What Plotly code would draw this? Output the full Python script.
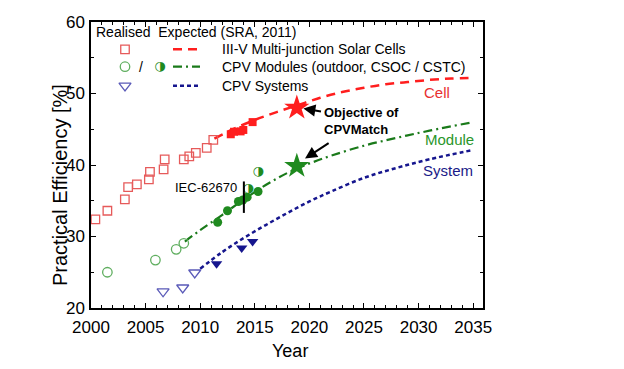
import plotly.graph_objects as go

# ---------------- data ----------------
cell_real_x = [2000.4, 2001.5, 2003.1, 2003.4, 2004.2, 2005.3, 2005.4, 2006.65, 2006.75, 2008.5, 2009.0, 2009.6, 2010.6, 2011.2]
cell_real_y = [32.4, 33.6, 35.2, 36.9, 37.3, 38.0, 39.05, 39.4, 40.8, 40.8, 41.2, 41.7, 42.4, 43.5]
cell_new_x = [2012.8, 2013.1, 2013.7, 2013.95, 2014.8]
cell_new_y = [44.3, 44.65, 44.7, 44.9, 46.0]

module_open_x = [2001.5, 2005.9, 2007.8, 2008.5]
module_open_y = [25.0, 26.7, 28.2, 29.05]
module_new_x = [2011.6, 2012.5, 2013.5, 2013.9, 2014.3, 2015.3]
module_new_y = [32.0, 33.6, 34.9, 35.1, 35.5, 36.3]
module_half_x = [2014.4, 2015.3]
module_half_y = [36.7, 39.0]

system_open_x = [2006.6, 2008.4, 2009.5]
system_open_y = [22.3, 22.85, 24.95]
system_new_x = [2011.5, 2013.8, 2014.8]
system_new_y = [26.2, 28.4, 29.3]

target_year = [2018.85]
cell_target = [48.0]
module_target = [39.85]

cell_exp_x = [2011.3, 2013, 2015, 2017, 2019, 2021, 2023, 2025, 2027, 2029, 2031, 2033, 2035]
cell_exp_y = [43.7, 45.0, 46.3, 47.4, 48.4, 49.4, 50.2, 50.8, 51.3, 51.6, 51.9, 52.1, 52.2]
module_exp_x = [2008.6, 2010, 2012, 2014, 2016, 2018, 2020, 2022, 2025, 2028, 2031, 2035]
module_exp_y = [29.3, 30.9, 33.0, 35.2, 37.2, 38.9, 40.2, 41.3, 42.7, 43.8, 44.8, 46.0]
system_exp_x = [2010, 2012, 2014, 2016, 2018, 2020, 2022, 2025, 2028, 2031, 2035]
system_exp_y = [25.5, 27.8, 29.8, 31.6, 33.3, 34.9, 36.3, 38.2, 39.6, 40.8, 42.1]

x_ticks = [2000, 2005, 2010, 2015, 2020, 2025, 2030, 2035]
y_ticks = [20, 30, 40, 50, 60]

legend_header = "Realised  Expected (SRA, 2011)"
legend_labels = ["III-V Multi-junction Solar Cells", "CPV Modules (outdoor, CSOC / CSTC)", "CPV Systems"]

FONT = "Liberation Sans, Arial, sans-serif"
RED_OPEN = "#e65a5a"
RED = "#ff1e1e"
GREEN_OPEN = "#5fae5f"
GREEN = "#1f8a1f"
BLUE_OPEN = "#5a5ab8"
BLUE = "#16168e"

fig = go.Figure()

# expected curves
fig.add_trace(go.Scatter(x=cell_exp_x, y=cell_exp_y, mode="lines", line=dict(color=RED, width=2.5, dash="9px,6px", shape="spline"), showlegend=False))
fig.add_trace(go.Scatter(x=module_exp_x, y=module_exp_y, mode="lines", line=dict(color="#1a7a1a", width=2.2, dash="9px,4px,2px,4px", shape="spline"), showlegend=False))
fig.add_trace(go.Scatter(x=system_exp_x, y=system_exp_y, mode="lines", line=dict(color=BLUE, width=2.5, dash="4px,3px", shape="spline"), showlegend=False))

# realised
fig.add_trace(go.Scatter(x=cell_real_x, y=cell_real_y, mode="markers", marker=dict(symbol="square-open", size=8.5, color=RED_OPEN, line=dict(width=1.3)), showlegend=False))
fig.add_trace(go.Scatter(x=cell_new_x, y=cell_new_y, mode="markers", marker=dict(symbol="square", size=8, color=RED), showlegend=False))
fig.add_trace(go.Scatter(x=module_open_x, y=module_open_y, mode="markers", marker=dict(symbol="circle-open", size=9.5, color=GREEN_OPEN, line=dict(width=1.3)), showlegend=False))
fig.add_trace(go.Scatter(x=module_new_x, y=module_new_y, mode="markers", marker=dict(symbol="circle", size=9, color=GREEN), showlegend=False))
fig.add_trace(go.Scatter(x=module_half_x, y=module_half_y, mode="text", text=["\u25d1"] * len(module_half_x),
                         textfont=dict(family="DejaVu Sans", size=13, color=GREEN), textposition="middle center", showlegend=False))
fig.add_trace(go.Scatter(x=system_open_x, y=system_open_y, mode="markers", marker=dict(symbol="triangle-down-open", size=10.5, color=BLUE_OPEN, line=dict(width=1.3)), showlegend=False))
fig.add_trace(go.Scatter(x=system_new_x, y=system_new_y, mode="markers", marker=dict(symbol="triangle-down", size=10, color=BLUE), showlegend=False))

# targets
fig.add_trace(go.Scatter(x=target_year, y=cell_target, mode="markers", marker=dict(symbol="star", size=19, color=RED), showlegend=False))
fig.add_trace(go.Scatter(x=target_year, y=module_target, mode="markers", marker=dict(symbol="star", size=19, color=GREEN), showlegend=False))

# ------------- legend (overlay axes in pixel-like units) -------------
row_y = [49.3, 66.7, 85.7]
fig.add_trace(go.Scatter(x=[125], y=[row_y[0]], xaxis="x2", yaxis="y2", mode="markers",
                         marker=dict(symbol="square-open", size=8.5, color=RED_OPEN, line=dict(width=1.3)), showlegend=False))
fig.add_trace(go.Scatter(x=[125], y=[row_y[1]], xaxis="x2", yaxis="y2", mode="markers",
                         marker=dict(symbol="circle-open", size=9.5, color=GREEN_OPEN, line=dict(width=1.3)), showlegend=False))
fig.add_trace(go.Scatter(x=[160], y=[row_y[1]], xaxis="x2", yaxis="y2", mode="text", text=["\u25d1"],
                         textfont=dict(family="DejaVu Sans", size=13, color=GREEN), showlegend=False))
fig.add_trace(go.Scatter(x=[125], y=[row_y[2]], xaxis="x2", yaxis="y2", mode="markers",
                         marker=dict(symbol="triangle-down-open", size=10.5, color=BLUE_OPEN, line=dict(width=1.3)), showlegend=False))
fig.add_trace(go.Scatter(x=[173, 200], y=[row_y[0]] * 2, xaxis="x2", yaxis="y2", mode="lines",
                         line=dict(color=RED, width=2.5, dash="9px,6px"), showlegend=False))
fig.add_trace(go.Scatter(x=[173, 200], y=[row_y[1]] * 2, xaxis="x2", yaxis="y2", mode="lines",
                         line=dict(color="#1a7a1a", width=2.2, dash="9px,4px,2px,4px"), showlegend=False))
fig.add_trace(go.Scatter(x=[173, 200], y=[row_y[2]] * 2, xaxis="x2", yaxis="y2", mode="lines",
                         line=dict(color=BLUE, width=2.5, dash="4px,3px"), showlegend=False))

annotations = []
annotations.append(dict(x=94, y=32, xref="x2", yref="y2", text=legend_header, showarrow=False, xanchor="left", yanchor="middle",
                        font=dict(family=FONT, size=14, color="black")))
for lab, yy in zip(legend_labels, row_y):
    annotations.append(dict(x=220, y=yy, xref="x2", yref="y2", text=lab, showarrow=False, xanchor="left", yanchor="middle",
                            font=dict(family=FONT, size=14, color="black")))
annotations.append(dict(x=141, y=row_y[1], xref="x2", yref="y2", text="/", showarrow=False,
                        font=dict(family=FONT, size=14, color="black")))

# curve labels
annotations.append(dict(x=2031.7, y=50.2, text="Cell", showarrow=False, font=dict(family=FONT, size=15, color="#e83030")))
annotations.append(dict(x=2032.8, y=43.5, text="Module", showarrow=False, font=dict(family=FONT, size=15, color="#2a962a")))
annotations.append(dict(x=2032.7, y=39.3, text="System", showarrow=False, font=dict(family=FONT, size=15, color="#1a1a88")))

# objective text and arrows
annotations.append(dict(x=2021.2, y=46.1, text="<b>Objective of<br>CPVMatch</b>", showarrow=False, xanchor="left", yanchor="middle",
                        align="left", font=dict(family=FONT, size=13, color="black")))
annotations.append(dict(x=2019.45, y=47.9, ax=2021.2, ay=47.45, axref="x", ayref="y", text="", showarrow=True,
                        arrowhead=2, arrowsize=1.2, arrowwidth=2, arrowcolor="black"))
annotations.append(dict(x=2019.6, y=40.9, ax=2021.9, ay=43.2, axref="x", ayref="y", text="", showarrow=True,
                        arrowhead=2, arrowsize=1.2, arrowwidth=2, arrowcolor="black"))

# IEC label
annotations.append(dict(x=2013.55, y=36.8, text="IEC-62670", showarrow=False, xanchor="right", yanchor="middle",
                        font=dict(family=FONT, size=13, color="black")))

# axis titles
annotations.append(dict(x=0.508, y=-0.15, xref="paper", yref="paper", text="Year", showarrow=False, yanchor="middle",
                        font=dict(family=FONT, size=18, color="black")))
annotations.append(dict(x=-0.079, y=0.43, xref="paper", yref="paper", text="Practical Efficiency [%]", showarrow=False,
                        textangle=-90, xanchor="center", yanchor="middle", font=dict(family=FONT, size=20, color="black")))

shapes = [dict(type="line", x0=2014.0, x1=2014.0, y0=33.3, y1=37.7, xref="x", yref="y", line=dict(color="black", width=2))]

axis_common = dict(showgrid=False, zeroline=False, showline=True, linecolor="black", linewidth=1.5, mirror="ticks",
                   ticks="inside", ticklen=5, tickwidth=1.2, tickcolor="black",
                   tickfont=dict(family=FONT, size=17, color="black"))

fig.update_layout(
    width=624, height=369,
    margin=dict(l=91, r=141, t=22, b=61),
    paper_bgcolor="white", plot_bgcolor="white",
    showlegend=False,
    xaxis=dict(range=[2000, 2035.9], tickvals=x_ticks, ticktext=[str(v) for v in x_ticks], ticklabelstandoff=3,
               minor=dict(dtick=1, ticks="inside", ticklen=3, tickcolor="black", showgrid=False), **axis_common),
    yaxis=dict(range=[20, 60], tickvals=y_ticks, ticktext=[str(v) for v in y_ticks], ticklabelstandoff=1,
               minor=dict(dtick=5, ticks="inside", ticklen=3, tickcolor="black", showgrid=False), **axis_common),
    xaxis2=dict(overlaying="x", range=[91, 483], visible=False, fixedrange=True),
    yaxis2=dict(overlaying="y", range=[308, 22], visible=False, fixedrange=True),
    annotations=annotations,
    shapes=shapes,
)

fig.write_html("out.html", config={"displayModeBar": False},
               post_script="document.body.style.margin='0';document.body.style.overflow='hidden';")
